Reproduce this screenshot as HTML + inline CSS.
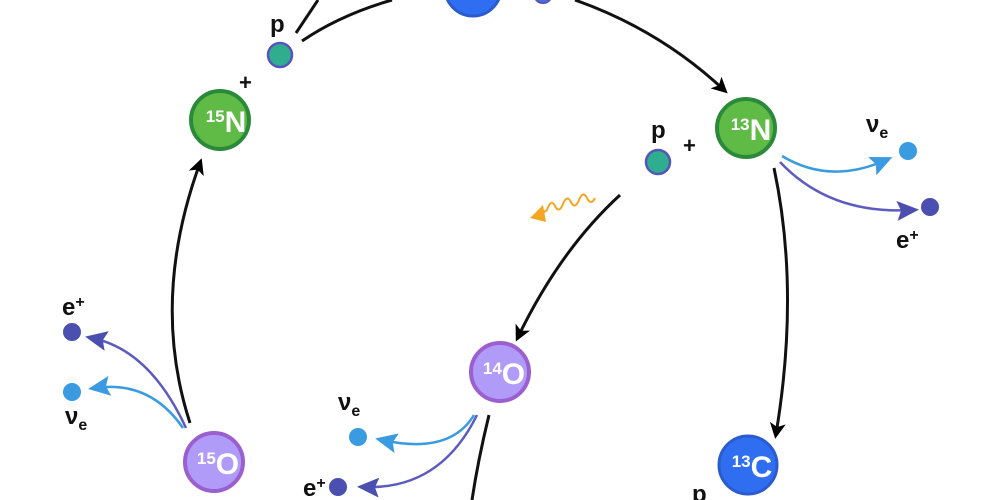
<!DOCTYPE html>
<html><head><meta charset="utf-8"><style>
html,body{margin:0;padding:0;background:#fff;width:1000px;height:500px;overflow:hidden}
svg text{font-family:"Liberation Sans",sans-serif;font-weight:bold}
</style></head><body>
<svg width="1000" height="500" viewBox="0 0 1000 500" xmlns="http://www.w3.org/2000/svg">
<defs>
<marker id="ak" markerWidth="16" markerHeight="16" refX="11" refY="8" orient="auto" markerUnits="userSpaceOnUse"><path d="M0,0 L16,8 L0,16 L4,8 z" fill="#000"/></marker>
<marker id="al" markerWidth="22" markerHeight="20" refX="15" refY="10" orient="auto" markerUnits="userSpaceOnUse"><path d="M0,0 L22,10 L0,20 L4,10 z" fill="#3a9be0"/></marker>
<marker id="ad" markerWidth="22" markerHeight="20" refX="15" refY="10" orient="auto" markerUnits="userSpaceOnUse"><path d="M0,0 L22,10 L0,20 L4,10 z" fill="#4a4fb0"/></marker>
</defs>
<g fill="none" stroke="#111" stroke-width="3">
<path d="M296,33 L318,0"/>
<path d="M302,41 Q340,15 392,0"/>
<path d="M575,0 Q660,30 724,90" marker-end="url(#ak)"/>
<path d="M774,168 Q800,290 776,434" marker-end="url(#ak)"/>
<path d="M620,195 Q560,250 518,337" marker-end="url(#ak)"/>
<path d="M489,415 Q478,460 472,500"/>
<path d="M190,423 Q150,300 200,163" marker-end="url(#ak)"/>
</g>
<g fill="none" stroke-width="2.5">
<path d="M782,156 Q830,185 886,160" stroke="#3a9be0" marker-end="url(#al)"/>
<path d="M780,162 Q830,215 912,210" stroke="#5c5cc0" marker-end="url(#ad)"/>
<path d="M186,428 Q150,350 92,338" stroke="#5c5cc0" marker-end="url(#ad)"/>
<path d="M183,428 Q150,380 95,388" stroke="#3a9be0" marker-end="url(#al)"/>
<path d="M474,415 Q450,455 382,440" stroke="#3a9be0" marker-end="url(#al)"/>
<path d="M477,415 Q440,490 364,487" stroke="#5c5cc0" marker-end="url(#ad)"/>
<path d="M595,198 q-4,8 -8,0 q-4,-8 -8,2 q-4,10 -8,2 q-4,-8 -8,2 q-4,10 -8,2 q-4,-8 -8,4 L540,215" stroke="#f5a623" stroke-width="2"/>
</g>
<path d="M530,218 L543,205 L546,222 z" fill="#f5a623"/>
<circle cx="473" cy="-12" r="28" fill="#2f6ef0" stroke="#2a5cd0" stroke-width="3"/>
<circle cx="543" cy="-6" r="9" fill="#4a6ee0" stroke="#5555bb" stroke-width="2"/>
<circle cx="220" cy="120" r="29" fill="#5fbb46" stroke="#2a8a3a" stroke-width="4"/>
<circle cx="746" cy="128" r="29" fill="#5fbb46" stroke="#2a8a3a" stroke-width="4"/>
<circle cx="500" cy="372" r="29" fill="#b09cf8" stroke="#9b5fd0" stroke-width="4"/>
<circle cx="214" cy="462" r="29" fill="#b09cf8" stroke="#9b5fd0" stroke-width="4"/>
<circle cx="748" cy="465" r="29" fill="#2f6ef0" stroke="#2a5cd0" stroke-width="3"/>
<g font-size="30" fill="#fff" text-anchor="middle">
<text x="226" y="132"><tspan font-size="17" dy="-10">15</tspan><tspan dy="10">N</tspan></text>
<text x="751" y="140"><tspan font-size="17" dy="-10">13</tspan><tspan dy="10">N</tspan></text>
<text x="504" y="384"><tspan font-size="17" dy="-10">14</tspan><tspan dy="10">O</tspan></text>
<text x="218" y="474"><tspan font-size="17" dy="-10">15</tspan><tspan dy="10">O</tspan></text>
<text x="752" y="477"><tspan font-size="17" dy="-10">13</tspan><tspan dy="10">C</tspan></text>
</g>
<circle cx="280" cy="55" r="12" fill="#2eae8f" stroke="#5555bb" stroke-width="2.5"/>
<circle cx="658" cy="162" r="12" fill="#2eae8f" stroke="#5555bb" stroke-width="2.5"/>
<circle cx="908" cy="151" r="9" fill="#3a9be0"/>
<circle cx="930" cy="207" r="9" fill="#4a4fb0"/>
<circle cx="72" cy="332" r="9" fill="#4a4fb0"/>
<circle cx="72" cy="392" r="9" fill="#3a9be0"/>
<circle cx="358" cy="437" r="9" fill="#3a9be0"/>
<circle cx="338" cy="487" r="9" fill="#4a4fb0"/>
<g font-size="24" fill="#111">
<text x="270" y="32">p</text>
<text x="651" y="138">p</text>
<text x="692" y="502">p</text>
<text x="239" y="90" font-weight="normal" font-size="22">+</text>
<text x="683" y="153" font-weight="normal" font-size="22">+</text>
<text x="866" y="132">ν<tspan font-size="16" dy="6">e</tspan></text>
<text x="896" y="248">e<tspan font-size="16" dy="-8">+</tspan></text>
<text x="62" y="315">e<tspan font-size="16" dy="-8">+</tspan></text>
<text x="65" y="424">ν<tspan font-size="16" dy="6">e</tspan></text>
<text x="338" y="410">ν<tspan font-size="16" dy="6">e</tspan></text>
<text x="303" y="496">e<tspan font-size="16" dy="-8">+</tspan></text>
</g>
</svg>
</body></html>
